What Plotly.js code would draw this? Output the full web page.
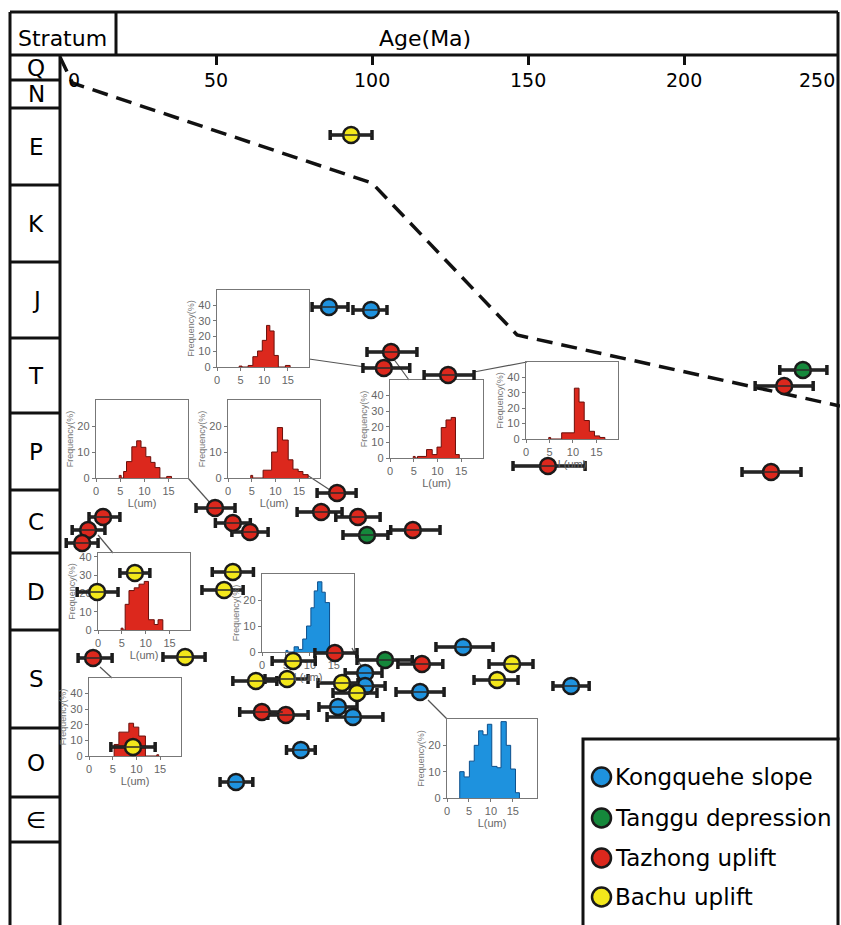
<!DOCTYPE html>
<html><head><meta charset="utf-8">
<script src="https://cdn.plot.ly/plotly-3.0.1.min.js"></script>
<style>html,body{margin:0;padding:0;background:#fff}#chart{width:841px;height:925px}</style>
</head><body><div id="chart"></div>
<script>
// ---------------- DATA ----------------
const strata = ['Q','N','E','K','J','T','P','C','D','S','O','∈'];
const strataBounds = [0,25,53,130,207,283,358,435,498,575,673,742,787]; // stratigraphic position (depth units)
const ageTicks = [0,50,100,150,200,250];
const ageTickLabels = ['0','50','100','150','200','250'];

// burial curve (age Ma, stratigraphic position)
const burialAge = [0,4,100,146.5,250];
const burialPos = [2,28,128,280,351];

// Kongquehe slope
const kongAge   = [86.2,99.7,129.2,97.8,97.8,115.4,163.8,89.1,93.9,77.2,56.4];
const kongPos   = [252,255,592,618,631,637,631,652,662,695,727];
const kongErrLo = [5.4,5.8,8.7,6.4,6.4,7.7,5.8,6.1,8.3,4.6,5.1];
const kongErrHi = [6.1,5.1,9.6,5.4,6.4,7.7,5.8,6.1,9.6,4.6,5.4];
// Tanggu depression
const tangAge   = [238.1,98.4,104.2];
const tangPos   = [315,480,605];
const tangErrLo = [7.4,7.7,9.0];
const tangErrHi = [7.7,6.7,8.7];
// Tazhong uplift
const tazAge   = [106.1,103.8,124.4,232.1,156.4,227.9,13.8,9.0,7.1,49.7,55.4,60.9,88.8,83.7,95.5,113.1,10.6,88.1,116.0,64.7,72.4];
const tazPos   = [297,313,320,331,411,417,462,475,488,453,468,477,438,457,462,475,603,598,609,657,660];
const tazErrLo = [7.7,6.7,7.7,9.3,11.2,9.3,4.5,5.1,5.1,6.1,5.6,5.8,6.4,7.7,7.1,7.1,4.8,6.4,7.7,7.1,5.8];
const tazErrHi = [8.3,8.3,8.3,9.3,11.9,9.6,5.4,5.4,5.1,6.4,5.6,5.8,6.1,6.7,7.1,8.7,6.1,7.1,6.7,6.7,7.1];
// Bachu uplift
const bachAge   = [93.3,24.0,11.9,55.4,52.6,40.1,62.8,74.7,72.8,90.4,95.2,144.9,140.1,23.4];
const bachPos   = [80,518,537,517,535,602,626,606,624,628,638,609,625,692];
const bachErrLo = [6.7,4.8,6.4,6.6,7.1,7.1,7.4,6.7,7.1,7.7,7.7,7.4,7.4,7.1];
const bachErrHi = [6.7,4.8,6.7,6.6,6.1,6.4,6.7,7.1,6.7,5.1,6.4,6.7,6.7,7.1];

const legendNames = ['Kongquehe slope','Tanggu depression','Tazhong uplift','Bachu uplift'];

// track-length histograms, L(um) bin edges and Frequency(%)
const hist1Edges = [4.7,5.3,6.6,7.6,8.6,9.6,10.5,11.2,12.1,13,14.5,15.5];
const hist1Freq  = [0.6,0,1,6.7,10.4,17.3,27,23.4,7.5,0,1];
const hist2Edges = [4.8,5.2,5.7,6.3,7.4,8.4,9.3,10.3,11.3,12.2,13.2,14.6,15.6];
const hist2Freq  = [1,0,2.5,6.3,12,14.3,11.8,8.2,6,4,0,0.6];
const hist3Edges = [4.8,5.2,7.4,9.2,10.4,11.5,12.7,13.7,14.8,15.8,16.9];
const hist3Freq  = [1,0,3,10,19.4,14.6,7,3.4,2.5,1.3];
const hist4Edges = [4.9,5.3,5.8,7.7,8.9,9.9,10.8,11.8,12.9,13.8,14.6];
const hist4Freq  = [1,0,1,5.4,2.2,7,19.5,24.4,26,2.2];
const hist5Edges = [4.85,5.25,7.6,10.3,11.3,12.4,13.5,14.6,15.7,16.8];
const hist5Freq  = [1,0,4,33,24,12,5,2,1];
const hist6Edges = [4.85,5.25,5.7,6.5,7.6,8.6,9.7,10.6,11.8,12.6,13.6];
const hist6Freq  = [1,0,14,21.5,23,25,26.5,5.6,3,5.6];
const hist7Edges = [5,5.4,6.7,7.6,8.5,9.3,10.2,10.9,11.6,12.5,13.2,14.1];
const hist7Freq  = [0.6,0,2,1,5,10,17,23.5,27,23,19];
const hist8Edges = [5.3,6.3,8.4,9.4,10.5,11.9,14.3,14.7];
const hist8Freq  = [7.4,15.3,21,18.5,12.8,0,0.8];
const hist9Edges = [2.9,3.9,5.1,6.2,7.2,8.2,9.2,10.2,11.4,12.3,13.5,14.5,15.6,16.5];
const hist9Freq  = [10,8,14,20,25.5,24,28,12,11.5,29,20,11,2];

// ---------------- LAYOUT HELPERS ----------------
const W=841,H=925;
const PX=p=>p/W, PY=p=>1-p/H;
const FONT='DejaVu Sans';
const RED='#dc281d', BLUE='#1e92de', GREEN='#15883b', YELLOW='#f3e71b';
const INK='#1a1a1a';

const insets = [
 {box:[217,309,290,367], xr:[0,19.5], yr:[0,50], yt:[0,10,20,30,40], col:'r', xt:false, e:hist1Edges, f:hist1Freq},
 {box:[96,188,400,478],  xr:[0,19],   yr:[0,30], yt:[0,10,20],       col:'r', xt:true,  e:hist2Edges, f:hist2Freq},
 {box:[228,320,400,478], xr:[0,19.4], yr:[0,30], yt:[0,10,20],       col:'r', xt:true,  e:hist3Edges, f:hist3Freq},
 {box:[390,483,380,458], xr:[0,19.6], yr:[0,50], yt:[0,10,20,30,40], col:'r', xt:true,  e:hist4Edges, f:hist4Freq},
 {box:[526,618,362,439], xr:[0,19.6], yr:[0,50], yt:[0,10,20,30,40], col:'r', xt:true,  e:hist5Edges, f:hist5Freq},
 {box:[98,190,553,630],  xr:[0,19.3], yr:[0,42], yt:[0,10,20,30,40], col:'r', xt:true,  e:hist6Edges, f:hist6Freq},
 {box:[262,354,574,652], xr:[0,19.2], yr:[0,30], yt:[0,10,20],       col:'b', xt:true,  e:hist7Edges, f:hist7Freq},
 {box:[89,181,678,756],  xr:[0,19.4], yr:[0,50], yt:[0,10,20,30,40], col:'r', xt:true,  e:hist8Edges, f:hist8Freq},
 {box:[447,537,719,798], xr:[0,20.5], yr:[0,30], yt:[0,10,20],       col:'b', xt:true,  e:hist9Edges, f:hist9Freq},
];

const traces=[];
const layout={
  width:W,height:H,margin:{l:0,r:0,t:0,b:0},
  paper_bgcolor:'#ffffff',plot_bgcolor:'rgba(0,0,0,0)',
  showlegend:false,font:{family:FONT,color:'#000'},
  shapes:[],annotations:[]
};

insets.forEach((ins,i)=>{
  const n=i+1, sx=n===1?'':String(n);
  const xs=[ins.e[0]], ys=[0];
  for(let k=0;k<ins.f.length;k++){xs.push(ins.e[k]);ys.push(ins.f[k]);}
  xs.push(ins.e[ins.e.length-1]); ys.push(0);
  traces.push({type:'scatter',mode:'lines',x:xs,y:ys,xaxis:'x'+sx,yaxis:'y'+sx,
    line:{shape:'hv',color:ins.col==='r'?'#6b0f0a':'#0c4f8c',width:1},
    fill:'tozeroy',fillcolor:ins.col==='r'?RED:BLUE,hoverinfo:'skip'});
  const [x0,x1,y0,y1]=ins.box;
  const axCommon={showgrid:false,zeroline:false,showline:true,mirror:true,linecolor:'#777',linewidth:1.2,
    ticks:'outside',ticklen:3,tickwidth:1,tickcolor:'#777',
    tickfont:{family:'Liberation Sans',size:11,color:'#666'},fixedrange:true};
  layout['xaxis'+sx]=Object.assign({},axCommon,{domain:[PX(x0),PX(x1)],range:ins.xr,anchor:'y'+sx,
    tickvals:[0,5,10,15],
    title:ins.xt?{text:'L(um)',font:{family:'Liberation Sans',size:11,color:'#666'},standoff:1}:{text:''}});
  layout['yaxis'+sx]=Object.assign({},axCommon,{domain:[PY(y1),PY(y0)],range:ins.yr,anchor:'x'+sx,
    tickvals:ins.yt,
    title:{text:'Frequency(%)',font:{family:'Liberation Sans',size:9,color:'#777'},standoff:2}});
});

// main axes (drawn last so points sit over the insets)
layout.xaxis10={domain:[PX(60),PX(840)],range:[0,250],side:'top',anchor:'y10',
  showgrid:false,zeroline:false,showline:false,ticks:'inside',ticklen:10,tickwidth:3,tickcolor:'#111',
  tickvals:[50,100,150,200],showticklabels:false,fixedrange:true};
layout.yaxis10={domain:[0,PY(55)],range:[870,0],anchor:'x10',visible:false,fixedrange:true};

// burial curve
traces.push({type:'scatter',mode:'lines',x:burialAge,y:burialPos,xaxis:'x10',yaxis:'y10',
  line:{color:'#111',width:3.5,dash:'16px,9px'},hoverinfo:'skip'});

function addGroup(ages,pos,lo,hi,color){
  traces.push({type:'scatter',mode:'markers',x:ages,y:pos,xaxis:'x10',yaxis:'y10',
    marker:{size:16,color:color,line:{color:INK,width:2.5}},
    error_x:{type:'data',symmetric:false,array:hi,arrayminus:lo,thickness:3.5,width:5,color:INK},
    hoverinfo:'x+y'});
  traces.push({type:'scatter',mode:'markers',x:ages,y:pos,xaxis:'x10',yaxis:'y10',
    marker:{size:1,color:'rgba(0,0,0,0)'},
    error_x:{type:'data',symmetric:false,array:hi,arrayminus:lo,thickness:1.6,width:0,color:'#2a2a2a'},
    hoverinfo:'skip'});
}
addGroup(kongAge,kongPos,kongErrLo,kongErrHi,BLUE);
addGroup(tangAge,tangPos,tangErrLo,tangErrHi,GREEN);
addGroup(tazAge,tazPos,tazErrLo,tazErrHi,RED);
addGroup(bachAge,bachPos,bachErrLo,bachErrHi,YELLOW);

// connector lines from samples to their histograms
const connectors=[[309,359,372,368],[393,358,409,380],[474,372,527,362],[188,478,212,505],
  [307,475,330,490],[98,535,113,553],[352,648,362,668],[100,667,112,678],[428,700,447,719]];
connectors.forEach(c=>layout.shapes.push({type:'line',xref:'paper',yref:'paper',
  x0:PX(c[0]),y0:PY(c[1]),x1:PX(c[2]),y1:PY(c[3]),line:{color:'#555',width:1.2},layer:'below'}));

// frame
const L=(x0,y0,x1,y1,w)=>layout.shapes.push({type:'line',xref:'paper',yref:'paper',
  x0:PX(x0),y0:PY(y0),x1:PX(x1),y1:PY(y1),line:{color:'#111',width:w||3},layer:'above'});
L(10,12,838,12); L(10,55,838,55); L(10,12,10,930); L(60,55,60,930); L(116,12,116,55); L(838,12,838,740);

// stratum column
strataBounds.slice(1).forEach(b=>layout.shapes.push({type:'line',xref:'paper',yref:'y10',
  x0:PX(10),x1:PX(60),y0:b,y1:b,line:{color:'#111',width:3},layer:'above'}));
strata.forEach((s,i)=>layout.annotations.push({xref:'paper',yref:'y10',x:PX(36),
  y:(strataBounds[i]+strataBounds[i+1])/2,text:s,showarrow:false,
  font:{family:FONT,size:23,color:'#000'},xanchor:'center',yanchor:'middle'}));

// header
layout.annotations.push({xref:'paper',yref:'paper',x:PX(63),y:PY(38),text:'Stratum',showarrow:false,
  font:{family:FONT,size:22,color:'#000'},xanchor:'center',yanchor:'middle'});
layout.annotations.push({xref:'paper',yref:'paper',x:PX(425),y:PY(38),text:'Age(Ma)',showarrow:false,
  font:{family:FONT,size:22,color:'#000'},xanchor:'center',yanchor:'middle'});

// age tick labels
ageTicks.forEach((t,i)=>{
  const a={xref:'x10',yref:'paper',x:t,y:PY(80),text:ageTickLabels[i],showarrow:false,
    font:{family:FONT,size:19,color:'#000'},xanchor:'center',yanchor:'middle'};
  if(i===0){a.xanchor='left';a.xshift=6;}
  if(i===ageTicks.length-1){a.xanchor='right';a.xshift=-3;}
  layout.annotations.push(a);
});

// legend box
layout.shapes.push({type:'rect',xref:'paper',yref:'paper',x0:PX(583),y0:PY(739),x1:PX(838),y1:PY(935),
  line:{color:'#111',width:3},fillcolor:'#fff',layer:'above'});
const legCols=[BLUE,GREEN,RED,YELLOW], legY=[777,818,858,897];
legendNames.forEach((nm,i)=>{
  layout.shapes.push({type:'circle',xref:'paper',yref:'paper',x0:PX(592),x1:PX(611),
    y0:PY(legY[i]-9.5),y1:PY(legY[i]+9.5),fillcolor:legCols[i],line:{color:INK,width:2.5},layer:'above'});
  layout.annotations.push({xref:'paper',yref:'paper',x:PX(613),y:PY(legY[i]),text:nm,showarrow:false,
    font:{family:FONT,size:23,color:'#000'},xanchor:'left',yanchor:'middle'});
});

Plotly.newPlot('chart',traces,layout,{displayModeBar:false,staticPlot:true});
</script></body></html>
